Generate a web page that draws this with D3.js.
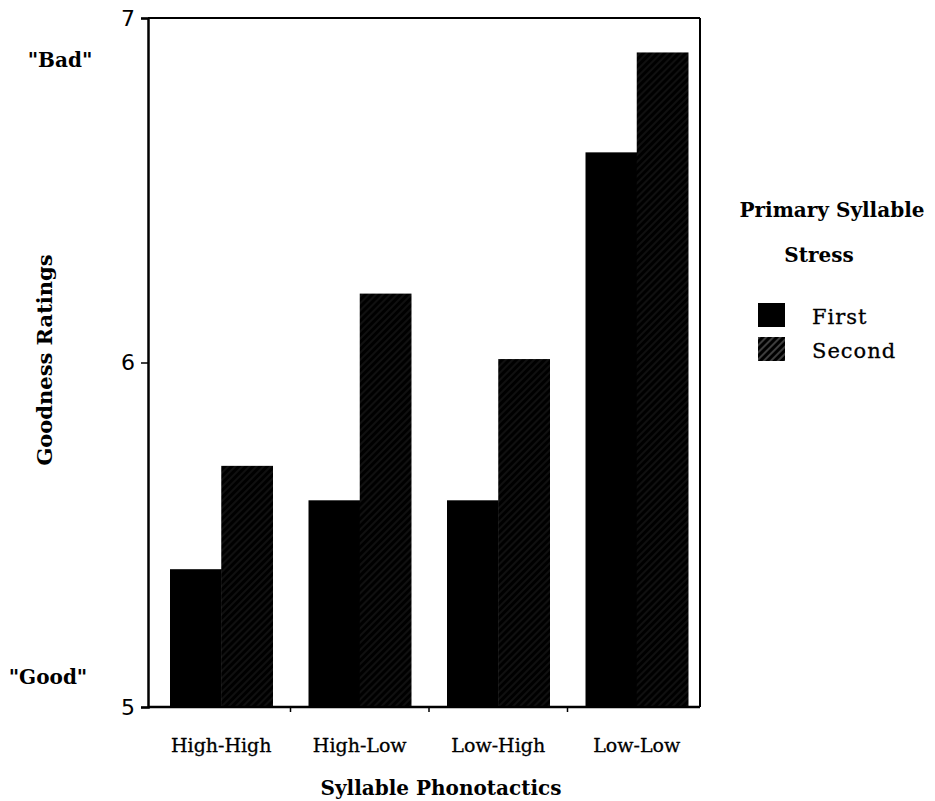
<!DOCTYPE html>
<html>
<head>
<meta charset="utf-8">
<script src="https://cdn.jsdelivr.net/npm/d3@7"></script>
<style>
  body { margin: 0; background: #fff; }
  text { font-family: "DejaVu Serif", "Liberation Serif", serif; fill: #000; }
</style>
</head>
<body>
<script>
var WIDTH = 935;
var HEIGHT = 801;

var categories = ['High-High', 'High-Low', 'Low-High', 'Low-Low'];
var seriesNames = ['First', 'Second'];
var firstValues = [5.40, 5.60, 5.60, 6.61];
var secondValues = [5.70, 6.20, 6.01, 6.90];
var yTicks = [5, 6, 7];

var FRAME = {left: 148, right: 700, top: 18, bottom: 707};

var svg = d3.select('body').append('svg')
    .attr('width', WIDTH)
    .attr('height', HEIGHT);

// hatch for the "Second" bars (very faint in the scan)
var defs = svg.append('defs');
function makeHatch(id, opacity) {
    var p = defs.append('pattern')
        .attr('id', id)
        .attr('patternUnits', 'userSpaceOnUse')
        .attr('width', 5)
        .attr('height', 5)
        .attr('patternTransform', 'rotate(45)');
    p.append('rect').attr('width', 5).attr('height', 5).attr('fill', '#000');
    p.append('line')
        .attr('x1', 1).attr('y1', 0).attr('x2', 1).attr('y2', 5)
        .attr('stroke', '#fff').attr('stroke-width', 0.8).attr('stroke-opacity', opacity);
}
makeHatch('hatch', 0.16);
makeHatch('hatchLegend', 0.6);

var x = d3.scaleBand()
    .domain(categories)
    .range([152, 706])
    .paddingInner(0.26)
    .paddingOuter(0.13);

var xSub = d3.scaleBand()
    .domain(seriesNames)
    .range([0, x.bandwidth()]);

var y = d3.scaleLinear()
    .domain([5, 7])
    .range([FRAME.bottom, FRAME.top]);

var fills = {First: '#000', Second: 'url(#hatch)'};

var rows = categories.map(function (c, i) {
    return {cat: c, vals: [
        {name: 'First', v: firstValues[i]},
        {name: 'Second', v: secondValues[i]}
    ]};
});

var groups = svg.selectAll('g.grp')
    .data(rows)
    .enter().append('g')
    .attr('class', 'grp')
    .attr('transform', function (d) { return 'translate(' + x(d.cat) + ',0)'; });

groups.selectAll('rect')
    .data(function (d) { return d.vals; })
    .enter().append('rect')
    .attr('x', function (d) { return xSub(d.name); })
    .attr('y', function (d) { return y(d.v); })
    .attr('width', xSub.bandwidth() + 0.5)
    .attr('height', function (d) { return y(5) - y(d.v); })
    .attr('fill', function (d) { return fills[d.name]; });

// frame
svg.append('line')
    .attr('x1', FRAME.left).attr('x2', FRAME.right)
    .attr('y1', FRAME.top).attr('y2', FRAME.top)
    .attr('stroke', '#000').attr('stroke-width', 2);
svg.append('line')
    .attr('x1', FRAME.right).attr('x2', FRAME.right)
    .attr('y1', FRAME.top).attr('y2', FRAME.bottom)
    .attr('stroke', '#000').attr('stroke-width', 2);

// y axis
var yAxis = d3.axisLeft(y).tickValues(yTicks).tickSize(7).tickPadding(6).tickFormat(d3.format('d'));
var gy = svg.append('g')
    .attr('transform', 'translate(' + FRAME.left + ',0)')
    .call(yAxis);
gy.select('.domain').attr('stroke-width', 2.5);
gy.selectAll('.tick line').attr('stroke-width', 1.5);
gy.selectAll('.tick text')
    .style('font-family', '"DejaVu Sans", sans-serif')
    .style('font-size', '22px');

// x axis: ticks sit between groups
var xBounds = categories.slice(1).map(function (c) {
    return x(c) - x.step() * x.paddingInner() / 2;
});
var gx = svg.append('g')
    .attr('transform', 'translate(0,' + FRAME.bottom + ')');
gx.append('line')
    .attr('x1', FRAME.left).attr('x2', FRAME.right)
    .attr('stroke', '#000').attr('stroke-width', 2.5);
gx.selectAll('line.tk')
    .data(xBounds)
    .enter().append('line')
    .attr('class', 'tk')
    .attr('x1', function (d) { return d; }).attr('x2', function (d) { return d; })
    .attr('y1', 0).attr('y2', 5)
    .attr('stroke', '#000').attr('stroke-width', 1.5);
gx.selectAll('text')
    .data(categories)
    .enter().append('text')
    .attr('x', function (d) { return x(d) + x.bandwidth() / 2; })
    .attr('y', 45)
    .attr('text-anchor', 'middle')
    .style('font-size', '19px')
    .style('stroke', '#000')
    .style('stroke-width', 0.3)
    .text(function (d) { return d; });

// axis titles
svg.append('text')
    .attr('x', 441).attr('y', 795)
    .attr('text-anchor', 'middle')
    .style('font-size', '20px')
    .style('font-weight', 'bold')
    .text('Syllable Phonotactics');

svg.append('text')
    .attr('transform', 'translate(52,360) rotate(-90)')
    .attr('text-anchor', 'middle')
    .style('font-size', '21px')
    .style('font-weight', 'bold')
    .text('Goodness Ratings');

svg.append('text')
    .attr('x', 60).attr('y', 67)
    .attr('text-anchor', 'middle')
    .style('font-size', '20px')
    .style('font-weight', 'bold')
    .text('"Bad"');

svg.append('text')
    .attr('x', 48).attr('y', 684)
    .attr('text-anchor', 'middle')
    .style('font-size', '20px')
    .style('font-weight', 'bold')
    .text('"Good"');

// legend
svg.append('text')
    .attr('x', 832).attr('y', 217)
    .attr('text-anchor', 'middle')
    .style('font-size', '20px')
    .style('font-weight', 'bold')
    .text('Primary Syllable');
svg.append('text')
    .attr('x', 819).attr('y', 262)
    .attr('text-anchor', 'middle')
    .style('font-size', '20px')
    .style('font-weight', 'bold')
    .text('Stress');

var legend = svg.selectAll('g.leg')
    .data(seriesNames)
    .enter().append('g')
    .attr('class', 'leg')
    .attr('transform', function (d, i) { return 'translate(758,' + (303 + i * 34) + ')'; });
legend.append('rect')
    .attr('width', 27).attr('height', 24)
    .attr('fill', function (d) { return d === 'First' ? '#000' : 'url(#hatchLegend)'; });
legend.append('text')
    .attr('x', 54).attr('y', 21)
    .style('font-size', '21px')
    .style('letter-spacing', '1px')
    .style('stroke', '#000')
    .style('stroke-width', 0.3)
    .text(function (d) { return d; });
</script>
</body>
</html>
